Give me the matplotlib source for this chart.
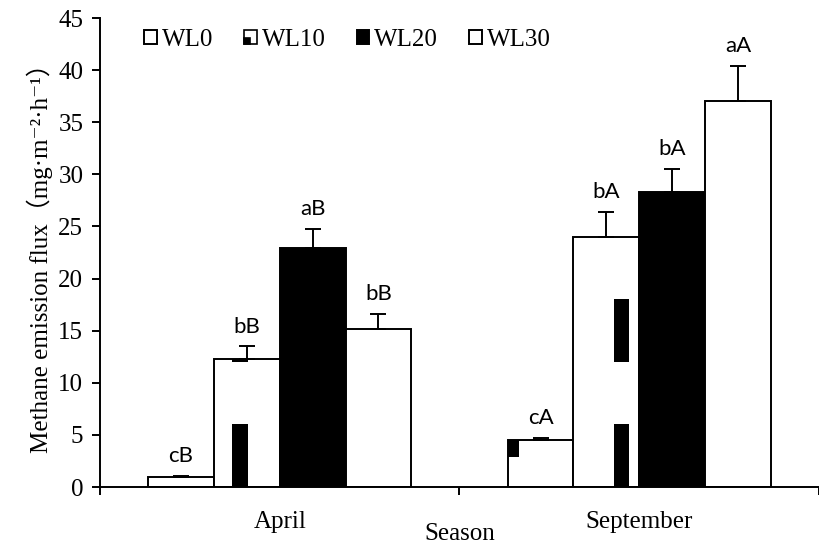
import matplotlib
matplotlib.use('Agg')
import matplotlib.pyplot as plt
import matplotlib.patches as mpatches
from matplotlib.legend_handler import HandlerPatch
import numpy as np

# data
seasons = ['April', 'September']
treatments = ['WL0', 'WL10', 'WL20', 'WL30']
flux = {
    'WL0':  [1.0, 4.5],
    'WL10': [12.3, 24.0],
    'WL20': [22.9, 28.3],
    'WL30': [15.2, 37.0],
}
err = {
    'WL0':  [0.05, 0.25],
    'WL10': [1.2, 2.4],
    'WL20': [1.9, 2.2],
    'WL30': [1.4, 3.4],
}
letters = {
    'WL0':  ['cB', 'cA'],
    'WL10': ['bB', 'bA'],
    'WL20': ['aB', 'bA'],
    'WL30': ['bB', 'aA'],
}
fills = {'WL0': 'white', 'WL10': 'white', 'WL20': 'black', 'WL30': 'white'}

# black pattern blocks that show up inside some bars
# (treatment, season index, left fraction of bar, width fraction, y from, y to)
pattern_blocks = [
    ('WL10', 0, 0.27, 0.24, 0, 6),
    ('WL10', 0, 0.27, 0.24, 12, 18),
    ('WL10', 1, 0.61, 0.24, 0, 6),
    ('WL10', 1, 0.61, 0.24, 12, 18),
    ('WL0', 1, 0.0, 0.17, 2.9, 4.6),
]

plt.rcParams['font.family'] = ['Liberation Serif', 'DejaVu Serif', 'Noto Sans CJK SC']
plt.rcParams['font.size'] = 18


class PatternHandle(HandlerPatch):
    # white box with a small black corner, like the WL10 key
    def create_artists(self, legend, orig_handle, xdescent, ydescent,
                       width, height, fontsize, trans):
        box = mpatches.Rectangle((-xdescent, -ydescent), width, height,
                                 facecolor='white', edgecolor='black', lw=1.2,
                                 transform=trans)
        corner = mpatches.Rectangle((-xdescent, -ydescent), width * 0.5, height * 0.4,
                                    facecolor='black', edgecolor='black', lw=1.2,
                                    transform=trans)
        return [box, corner]


fig = plt.figure(figsize=(8.19, 5.5), dpi=100)
ax = fig.add_axes([0.1221, 0.1145, 0.8779, 0.8527])

x = np.arange(len(seasons))
w = 0.183
lw = 1.4

handles = []
for i, t in enumerate(treatments):
    pos = x + (i - 1.5) * w
    b = ax.bar(pos, flux[t], width=w, color=fills[t], edgecolor='black',
               linewidth=lw, label=t, zorder=2)
    handles.append(b)
    ax.errorbar(pos, flux[t], yerr=[np.zeros(len(x)), err[t]], fmt='none',
                ecolor='black', elinewidth=lw, capsize=6, capthick=lw, zorder=3)
    for j in range(len(x)):
        ax.annotate(letters[t][j], (pos[j], flux[t][j] + err[t][j]),
                    xytext=(0, 7), textcoords='offset points',
                    ha='center', va='bottom', fontsize=16, family='Lato')

for t, j, fx, fw, y0, y1 in pattern_blocks:
    i = treatments.index(t)
    left = x[j] + (i - 2) * w + fx * w
    top = min(y1, flux[t][j])
    ax.bar(left, top - y0, width=fw * w, bottom=y0, align='edge',
           color='black', linewidth=0, zorder=2.5)

ax.set_xlim(-0.5, 1.5)
ax.set_ylim(0, 45)
ax.set_yticks(np.arange(0, 46, 5))
ax.set_xticks([-0.5, 0.5, 1.5])
ax.set_xticklabels([])
ax.set_xticks(x, minor=True)
ax.set_xticklabels(seasons, minor=True)
ax.tick_params(axis='x', which='minor', length=0, pad=17)
ax.tick_params(axis='x', which='major', length=6, width=lw, direction='out')
ax.tick_params(axis='y', length=6, width=lw, direction='out', pad=6)

ax.spines['top'].set_visible(False)
ax.spines['right'].set_visible(False)
ax.spines['left'].set_linewidth(lw)
ax.spines['bottom'].set_linewidth(lw)

ax.set_xlabel('Season', labelpad=-7)
ax.set_ylabel('Methane emission flux（mg·m⁻²·h⁻¹）', labelpad=4)

ax.legend(handles, treatments, loc='upper left', bbox_to_anchor=(0.03, 1.025),
          ncol=4, frameon=False, handlelength=0.5, handleheight=0.5,
          handletextpad=0.2, columnspacing=1.25, fontsize=18,
          handler_map={handles[1]: PatternHandle()})

fig.savefig('out.png', dpi=100)
